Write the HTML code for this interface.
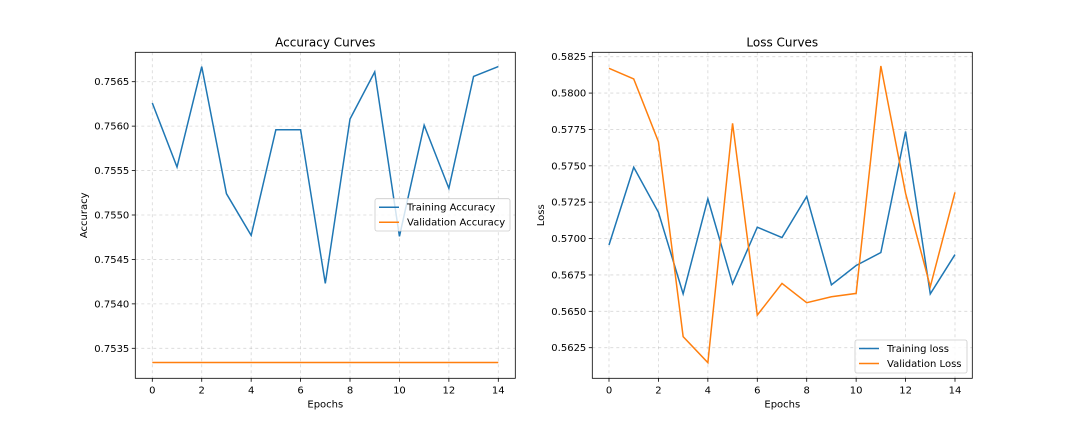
<!DOCTYPE html>
<html><head><meta charset="utf-8"><style>
html,body{margin:0;padding:0;background:#fff;}
svg{display:block;font-family:"DejaVu Sans","Liberation Sans",sans-serif;}
</style></head><body>
<svg id="fig" width="1080" height="432" viewBox="0 0 1080 432" xmlns="http://www.w3.org/2000/svg"></svg>
<script>
const epochs = [0,1,2,3,4,5,6,7,8,9,10,11,12,13,14];
const trainAcc = [0.75626,0.75554,0.75667,0.75524,0.75477,0.75596,0.75596,0.75423,0.75608,0.75661,0.75476,0.75601,0.7553,0.75656,0.75667];
const valAcc = [0.75334,0.75334,0.75334,0.75334,0.75334,0.75334,0.75334,0.75334,0.75334,0.75334,0.75334,0.75334,0.75334,0.75334,0.75334];
const trainLoss = [0.56956,0.5749,0.57181,0.5662,0.57273,0.56689,0.57078,0.57007,0.57289,0.56682,0.56815,0.56904,0.57736,0.5662,0.5689];
const valLoss = [0.5817,0.58097,0.57666,0.56326,0.56147,0.57792,0.56474,0.56692,0.56559,0.566,0.56623,0.58186,0.57311,0.56669,0.57318];
const xTicks = [0,2,4,6,8,10,12,14];
const accTicks = [0.7535,0.754,0.7545,0.755,0.7555,0.756,0.7565];
const lossTicks = [0.5625,0.565,0.5675,0.57,0.5725,0.575,0.5775,0.58,0.5825];

const NS="http://www.w3.org/2000/svg";
const svg=document.getElementById('fig');
function mk(tag,attrs,parent){const e=document.createElementNS(NS,tag);for(const k in attrs)e.setAttribute(k,attrs[k]);(parent||svg).appendChild(e);return e;}

function panel(cfg){
  const g=mk('g',{});
  
  
  const L=cfg.left,R=cfg.right,T=52.3,B=378.3;
  const xs=v=>cfg.x0+(v-0)*(cfg.x14-cfg.x0)/14;
  const ys=v=>cfg.ya+(v-cfg.va)*(cfg.yb-cfg.ya)/(cfg.vb-cfg.va);
  xTicks.forEach(t=>{const l=mk('line',{x1:xs(t),x2:xs(t),y1:T,y2:B,stroke:'#b0b0b0','stroke-width':0.8,'stroke-dasharray':'3,3','stroke-opacity':0.5},g);
    });
  cfg.yTicks.forEach(t=>{const l=mk('line',{x1:L,x2:R,y1:ys(t),y2:ys(t),stroke:'#b0b0b0','stroke-width':0.8,'stroke-dasharray':'3,3','stroke-opacity':0.5},g);
    });
  cfg.series.forEach(s=>{
    const p=mk('polyline',{points:epochs.map((e,i)=>xs(e)+','+ys(s.data[i])).join(' '),fill:'none',stroke:s.color,'stroke-width':1.5},g);
    
  });
  const fr=mk('rect',{x:L,y:T,width:R-L,height:B-T,fill:'none',stroke:'#000','stroke-width':0.8},g);
  
  xTicks.forEach(t=>{mk('line',{x1:xs(t),x2:xs(t),y1:B,y2:B+3.5,stroke:'#000','stroke-width':0.8},g);
    const tx=mk('text',{x:xs(t),y:B+15,'font-size':10,'text-anchor':'middle',fill:'#000'},g);tx.textContent=t;
    });
  cfg.yTicks.forEach(t=>{mk('line',{x1:L-3.5,x2:L,y1:ys(t),y2:ys(t),stroke:'#000','stroke-width':0.8},g);
    const tx=mk('text',{x:L-6,y:ys(t)+3.5,'font-size':10,'text-anchor':'end',fill:'#000'},g);tx.textContent=t.toFixed(4);
    });
  const ti=mk('text',{x:(L+R)/2,y:T-6,'font-size':12,'text-anchor':'middle'},g);ti.textContent=cfg.title;
  
  const xl=mk('text',{x:(L+R)/2,y:B+29,'font-size':10,'text-anchor':'middle'},g);xl.textContent='Epochs';
  
  const yl=mk('text',{x:0,y:0,'font-size':10,'text-anchor':'middle',transform:`translate(${cfg.ylx},${(T+B)/2}) rotate(-90)`},g);yl.textContent=cfg.ylabel;
  
  const lg=mk('g',{},g);
  const b=cfg.leg;
  mk('rect',{x:b.x,y:b.y,width:b.w,height:b.h,rx:2,fill:'#fff','fill-opacity':0.8,stroke:'#ccc','stroke-width':0.8},lg);
  cfg.series.forEach((s,i)=>{
    const yy=b.y+8.5+i*15;
    const sw=mk('line',{x1:b.x+4,x2:b.x+24,y1:yy,y2:yy,stroke:s.color,'stroke-width':1.5},lg);
    
    const t=mk('text',{x:b.x+32,y:yy+3.5,'font-size':10},lg);t.textContent=s.label;
    
  });
}
panel({name:'accuracy-chart',left:135.3,right:515.3,x0:152.3,x14:498.3,ya:81.7,va:0.7565,yb:348.3,vb:0.7535,
  yTicks:accTicks,title:'Accuracy Curves',ylabel:'Accuracy',ylx:87,
  series:[{name:'training-accuracy-line',label:'Training Accuracy',color:'#1f77b4',data:trainAcc},
          {name:'validation-accuracy-line',label:'Validation Accuracy',color:'#ff7f0e',data:valAcc}],
  leg:{x:375,y:198.7,w:135,h:32.3}});
panel({name:'loss-chart',left:592.3,right:972.3,x0:609,x14:955,ya:56.7,va:0.5825,yb:347.7,vb:0.5625,
  yTicks:lossTicks,title:'Loss Curves',ylabel:'Loss',ylx:544,
  series:[{name:'training-loss-line',label:'Training loss',color:'#1f77b4',data:trainLoss},
          {name:'validation-loss-line',label:'Validation Loss',color:'#ff7f0e',data:valLoss}],
  leg:{x:855,y:340,w:112,h:33}});
</script>
</body></html>
